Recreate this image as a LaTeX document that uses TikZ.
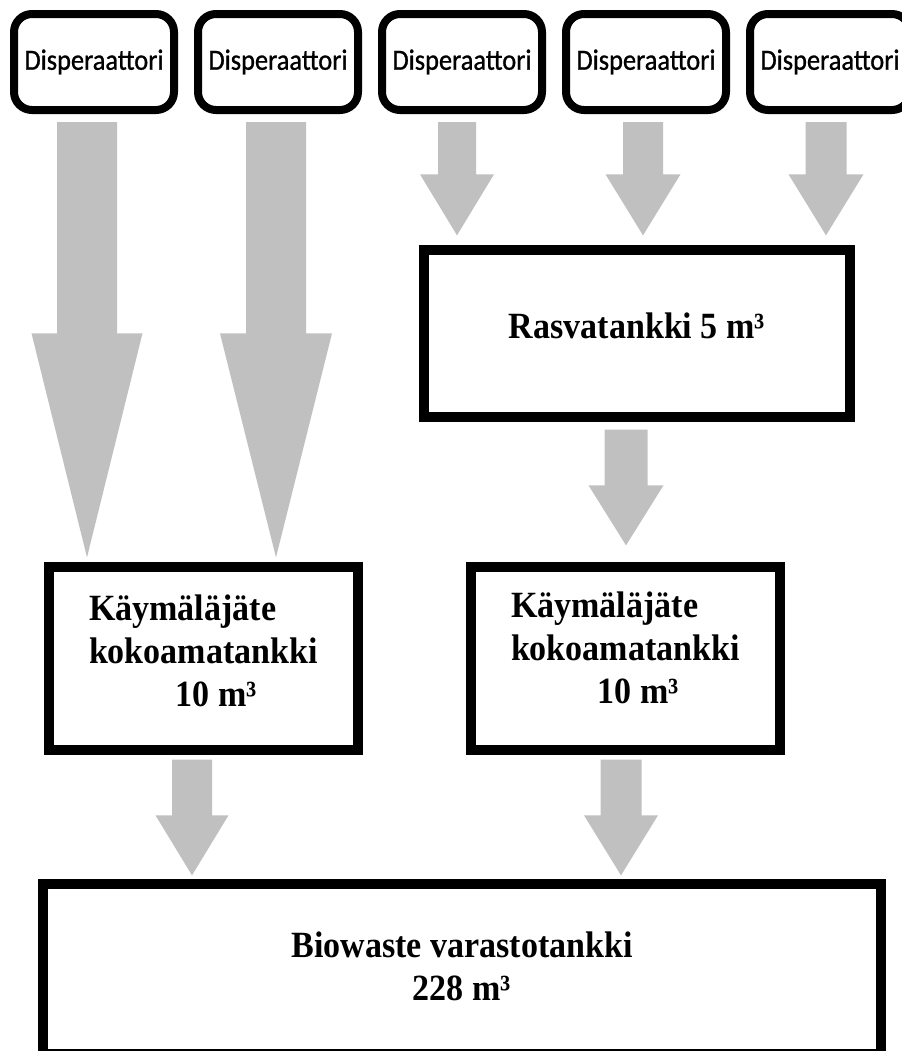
\documentclass[tikz,border=0pt]{standalone}
\usepackage{fontspec}
\usepackage{tikz}
\usetikzlibrary{
    calc,
    positioning
}
\newfontfamily\dispfont[FakeStretch=0.9, FakeBold=1]{Carlito}
\newfontfamily\tankfont[FakeStretch=0.92]{Liberation Serif Bold}
\definecolor{flowgray}{RGB}{192,192,192}
\newlength{\pix}
\setlength{\pix}{0.75pt}
\newcommand{\flowarrow}[5]{%
    \fill[flowgray] ($(#1)+(-#3,0)$) -- ($(#2)+(-#3,-#5)$) -- ($(#2)+(-#4,-#5)$) -- (#2)
        -- ($(#2)+(#4,-#5)$) -- ($(#2)+(#3,-#5)$) -- ($(#1)+(#3,0)$) -- cycle;}
\tikzset{
    disp/.style={draw, line width=6pt, rounded corners=18\pix, minimum width=160\pix,
        minimum height=96\pix, inner sep=0pt, font=\dispfont\fontsize{22}{26}\selectfont},
    tank/.style={draw, line width=7pt, inner sep=0pt, align=center,
        font=\tankfont\fontsize{27.75}{32.25}\selectfont}
}

\begin{document}
\begin{tikzpicture}[x=0.75pt, y=-0.75pt]
                                \useasboundingbox (0, 0) rectangle (902, 1051);

                                \node[disp] (d1) at (94, 62) {Disperaattori};
                                \node[disp] (d2) at (278, 62) {Disperaattori};
                                \node[disp] (d3) at (462, 62) {Disperaattori};
                                \node[disp] (d4) at (646, 62) {Disperaattori};
                                \node[disp] (d5) at (830, 62) {Disperaattori};

                                \node[tank, minimum width=426\pix, minimum height=167\pix] (rasva) at (637, 333.5)
                                    {Rasvatankki 5 m³\rule[-12pt]{0pt}{12pt}};
                                \node[tank, minimum width=309\pix, minimum height=183\pix, align=left] (k1) at (203.5, 658.5)
                                    {Käymäläjäte\\kokoamatankki\hspace*{9pt}\\\hspace*{65pt}10 m³\rule[-12pt]{0pt}{12pt}};
                                \node[tank, minimum width=309\pix, minimum height=183\pix, align=left] (k2) at (625.5, 658.5)
                                    {Käymäläjäte\\kokoamatankki\hspace*{9pt}\\\hspace*{65pt}10 m³\rule[-16pt]{0pt}{16pt}};
                                \node[tank, minimum width=838\pix, minimum height=170\pix] (bio) at (462, 969)
                                    {Biowaste varastotankki\\228 m³\rule[-4pt]{0pt}{4pt}};

                                \coordinate (a1) at ($(d1.south)+(-7, 8)$);
                                \coordinate (b1) at ($(a1 |- k1.north)+(0, -5)$);
                                \coordinate (a2) at ($(d2.south)+(-2, 8)$);
                                \coordinate (b2) at ($(a2 |- k1.north)+(0, -5)$);
                                \coordinate (a3) at ($(d3.south)+(-5, 8)$);
                                \coordinate (b3) at ($(a3 |- rasva.north)+(0, -10)$);
                                \coordinate (a4) at ($(d4.south)+(-3, 8)$);
                                \coordinate (b4) at ($(a4 |- rasva.north)+(0, -10)$);
                                \coordinate (a5) at ($(d5.south)+(-4, 8)$);
                                \coordinate (b5) at ($(a5 |- rasva.north)+(0, -10)$);
                                \coordinate (a6) at ($(rasva.south)+(-11, 8)$);
                                \coordinate (b6) at ($(a6 |- k2.north)+(0, -17)$);
                                \coordinate (a7) at ($(k1.south)+(-11.5, 5)$);
                                \coordinate (b7) at ($(a7 |- bio.north)+(0, -4)$);
                                \coordinate (a8) at ($(k2.south)+(-4.5, 5)$);
                                \coordinate (b8) at ($(a8 |- bio.north)+(0, -4)$);

                                \flowarrow{a1}{b1}{30}{55.5}{224}
                                \flowarrow{a2}{b2}{30}{56}{224}
                                \flowarrow{a3}{b3}{19}{37}{61}
                                \flowarrow{a4}{b4}{20}{37.5}{61}
                                \flowarrow{a5}{b5}{20.5}{37.5}{61}
                                \flowarrow{a6}{b6}{21.5}{37.5}{60}
                                \flowarrow{a7}{b7}{20}{36.5}{60}
                                \flowarrow{a8}{b8}{20.5}{37}{60}
                            \end{tikzpicture}
\end{document}
